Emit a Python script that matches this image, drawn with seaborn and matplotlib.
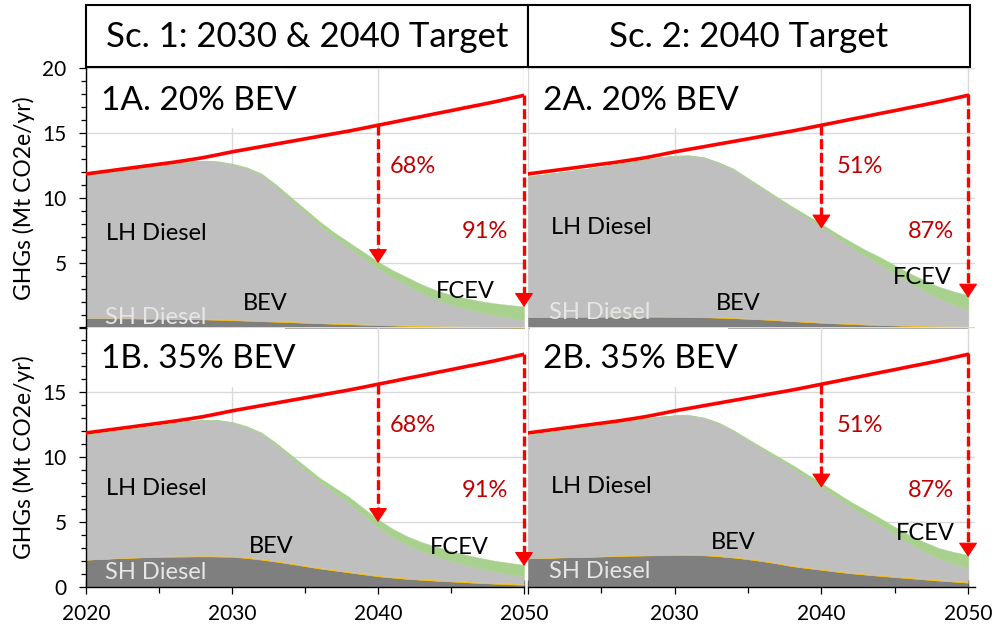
import matplotlib
matplotlib.use("Agg")
import matplotlib.pyplot as plt
from matplotlib.patches import Rectangle
from matplotlib.ticker import MultipleLocator, FixedLocator
import pandas as pd
import seaborn as sns

# ---------------- data ----------------
years = list(range(2020, 2051))
baseline = [11.85, 12.0, 12.15, 12.3, 12.45, 12.6, 12.75, 12.92, 13.1, 13.32,
            13.55, 13.75, 13.95, 14.15, 14.35, 14.55, 14.75, 14.95, 15.15, 15.37,
            15.6, 15.82, 16.05, 16.27, 16.5, 16.72, 16.95, 17.17, 17.4, 17.65, 17.9]

# Panel 1A (Sc. 1, 20% BEV)
sh_1a = [0.75, 0.75, 0.74, 0.73, 0.72, 0.71, 0.70, 0.68, 0.66, 0.63,
         0.60, 0.56, 0.52, 0.48, 0.44, 0.40, 0.36, 0.32, 0.29, 0.25,
         0.22, 0.19, 0.16, 0.13, 0.11, 0.09, 0.07, 0.06, 0.05, 0.04, 0.03]
bev_1a = [0.00, 0.01, 0.01, 0.02, 0.02, 0.03, 0.03, 0.04, 0.04, 0.05,
          0.05, 0.05, 0.05, 0.06, 0.06, 0.06, 0.06, 0.06, 0.06, 0.06,
          0.06, 0.06, 0.06, 0.06, 0.06, 0.06, 0.06, 0.06, 0.06, 0.06, 0.06]
lh_1a = [11.00, 11.14, 11.30, 11.45, 11.61, 11.76, 11.92, 12.06, 12.15, 12.12,
         11.95, 11.69, 11.23, 10.36, 9.40, 8.44, 7.48, 6.62, 5.85, 5.09,
         4.32, 3.65, 3.08, 2.51, 2.03, 1.65, 1.37, 1.10, 0.89, 0.70, 0.51]
fcev_1a = [0.0, 0.0, 0.0, 0.0, 0.0, 0.0, 0.0, 0.01, 0.02, 0.03,
           0.05, 0.07, 0.10, 0.15, 0.20, 0.25, 0.30, 0.35, 0.40, 0.45,
           0.50, 0.55, 0.60, 0.65, 0.70, 0.75, 0.80, 0.85, 0.90, 0.97, 1.05]

# Panel 2A (Sc. 2, 20% BEV)
sh_2a = [0.85, 0.85, 0.86, 0.86, 0.87, 0.87, 0.87, 0.87, 0.86, 0.86,
         0.85, 0.84, 0.82, 0.79, 0.75, 0.70, 0.65, 0.59, 0.52, 0.46,
         0.40, 0.35, 0.30, 0.26, 0.22, 0.19, 0.16, 0.13, 0.11, 0.09, 0.08]
bev_2a = [0.00, 0.01, 0.01, 0.02, 0.02, 0.02, 0.03, 0.03, 0.03, 0.04,
          0.04, 0.04, 0.04, 0.05, 0.05, 0.05, 0.05, 0.05, 0.05, 0.05,
          0.05, 0.05, 0.05, 0.05, 0.05, 0.05, 0.05, 0.05, 0.05, 0.05, 0.05]
lh_2a = [10.80, 10.94, 11.08, 11.22, 11.36, 11.53, 11.70, 11.88, 12.06, 12.22,
         12.36, 12.38, 12.24, 11.86, 11.40, 10.70, 10.00, 9.31, 8.63, 7.99,
         7.35, 6.60, 5.91, 5.24, 4.63, 3.96, 3.29, 2.70, 2.14, 1.68, 1.27]
fcev_2a = [0.0, 0.0, 0.0, 0.0, 0.0, 0.0, 0.0, 0.0, 0.01, 0.015,
           0.02, 0.03, 0.04, 0.05, 0.07, 0.08, 0.10, 0.12, 0.15, 0.18,
           0.22, 0.30, 0.38, 0.46, 0.55, 0.63, 0.72, 0.80, 0.88, 1.00, 1.12]

# Panel 1B (Sc. 1, 35% BEV)
sh_1b = [2.10, 2.15, 2.20, 2.24, 2.28, 2.31, 2.33, 2.34, 2.35, 2.34,
         2.32, 2.23, 2.10, 1.95, 1.78, 1.60, 1.42, 1.27, 1.12, 0.97,
         0.82, 0.72, 0.62, 0.55, 0.48, 0.42, 0.36, 0.30, 0.25, 0.20, 0.16]
bev_1b = [0.00, 0.01, 0.02, 0.03, 0.04, 0.04, 0.05, 0.05, 0.06, 0.06,
          0.07, 0.07, 0.08, 0.08, 0.08, 0.08, 0.08, 0.08, 0.08, 0.08,
          0.08, 0.08, 0.08, 0.08, 0.08, 0.08, 0.08, 0.08, 0.08, 0.08, 0.08]
lh_1b = [9.60, 9.69, 9.78, 9.88, 9.98, 10.10, 10.22, 10.36, 10.44, 10.42,
         10.26, 10.00, 9.62, 8.92, 8.14, 7.37, 6.60, 5.95, 5.30, 4.50,
         3.70, 3.05, 2.55, 2.12, 1.79, 1.50, 1.26, 1.05, 0.87, 0.72, 0.56]
fcev_1b = [0.0, 0.0, 0.0, 0.0, 0.0, 0.0, 0.0, 0.02, 0.03, 0.04,
           0.06, 0.08, 0.10, 0.15, 0.20, 0.25, 0.30, 0.37, 0.45, 0.52,
           0.60, 0.63, 0.65, 0.70, 0.75, 0.77, 0.78, 0.80, 0.82, 0.86, 0.90]

# Panel 2B (Sc. 2, 35% BEV)
sh_2b = [2.20, 2.23, 2.26, 2.29, 2.31, 2.34, 2.37, 2.40, 2.42, 2.44,
         2.46, 2.46, 2.43, 2.36, 2.26, 2.13, 1.98, 1.80, 1.60, 1.45,
         1.32, 1.18, 1.05, 0.95, 0.85, 0.76, 0.67, 0.58, 0.49, 0.41, 0.33]
bev_2b = [0.00, 0.01, 0.02, 0.02, 0.03, 0.03, 0.04, 0.04, 0.05, 0.05,
          0.06, 0.06, 0.07, 0.07, 0.07, 0.07, 0.07, 0.07, 0.07, 0.07,
          0.07, 0.07, 0.07, 0.07, 0.07, 0.07, 0.07, 0.07, 0.07, 0.07, 0.07]
lh_2b = [9.50, 9.61, 9.72, 9.84, 9.96, 10.10, 10.24, 10.36, 10.48, 10.61,
         10.68, 10.68, 10.50, 10.17, 9.67, 9.10, 8.55, 8.03, 7.53, 6.93,
         6.31, 5.70, 5.08, 4.48, 3.88, 3.22, 2.62, 2.10, 1.64, 1.32, 1.04]
fcev_2b = [0.0, 0.0, 0.0, 0.0, 0.0, 0.0, 0.0, 0.0, 0.01, 0.015,
           0.02, 0.03, 0.04, 0.05, 0.07, 0.09, 0.12, 0.16, 0.20, 0.25,
           0.30, 0.33, 0.36, 0.43, 0.50, 0.57, 0.64, 0.72, 0.80, 0.90, 1.02]

reduction_s1 = [68, 91]   # % below baseline in 2040, 2050
reduction_s2 = [51, 87]
arrow_years = [2040, 2050]

scenario_titles = ["Sc. 1: 2030 & 2040 Target", "Sc. 2: 2040 Target"]
panel_titles = ["1A. 20% BEV", "2A. 20% BEV", "1B. 35% BEV", "2B. 35% BEV"]
y_label = "GHGs (Mt CO2e/yr)"

# ---------------- style ----------------
sns.set_theme(style="ticks")
plt.rcParams['font.family'] = ['Lato', 'DejaVu Sans']

C_SH = "#7f7f7f"
C_BEV = "#ffc000"
C_LH = "#bfbfbf"
C_FCEV = "#a9d18e"
C_RED = "#ff0000"
C_PCT = "#c00000"
C_GRID = "#d9d9d9"

W, H = 995, 628
fig = plt.figure(figsize=(W / 100, H / 100), dpi=100)


def add_ax(l, r, t, b, z):
    return fig.add_axes([l / W, 1 - b / H, (r - l) / W, (b - t) / H], zorder=z)


ax1a = add_ax(86, 524, 68, 328, 3)
ax2a = add_ax(528, 975.4, 68, 328, 2)
ax1b = add_ax(86, 524, 327, 587, 3)
ax2b = add_ax(528, 975.4, 327, 587, 2)

panels = [
    (ax1a, sh_1a, bev_1a, lh_1a, fcev_1a, reduction_s1, panel_titles[0], False, True,
     dict(lh=(2021.4, 7.3), sh=(2021.3, 0.77), bev=(2032.3, 1.9), fcev=(2046.0, 2.8))),
    (ax2a, sh_2a, bev_2a, lh_2a, fcev_2a, reduction_s2, panel_titles[1], True, True,
     dict(lh=(2021.6, 7.7), sh=(2021.4, 1.2), bev=(2034.3, 1.9), fcev=(2046.9, 3.9))),
    (ax1b, sh_1b, bev_1b, lh_1b, fcev_1b, reduction_s1, panel_titles[2], False, False,
     dict(lh=(2021.4, 7.6), sh=(2021.3, 1.15), bev=(2032.7, 3.15), fcev=(2045.6, 3.0))),
    (ax2b, sh_2b, bev_2b, lh_2b, fcev_2b, reduction_s2, panel_titles[3], True, False,
     dict(lh=(2021.6, 7.7), sh=(2021.4, 1.23), bev=(2034.0, 3.4), fcev=(2047.1, 4.1))),
]

for ax, sh, bev, lh, fcev, red, ptitle, right, top, lab in panels:
    ax.set_axisbelow(True)
    ax.patch.set_alpha(0)
    ax.stackplot(years, sh, bev, lh, fcev,
                 colors=[C_SH, C_BEV, C_LH, C_FCEV],
                 edgecolor='face', linewidth=0.3, zorder=1)
    df = pd.DataFrame({"year": years, "base": baseline})
    sns.lineplot(data=df, x="year", y="base", ax=ax, color=C_RED, lw=2.6, zorder=3)
    ax.set_xlabel("")
    ax.set_ylabel("")

    ax.set_xlim(2020, 2050.5 if right else 2050)
    ax.set_ylim(0, 20)

    # grid
    ax.xaxis.set_major_locator(FixedLocator([2020, 2030, 2040, 2050]))
    ax.xaxis.set_minor_locator(FixedLocator([2025, 2035, 2045]))
    ax.yaxis.set_major_locator(FixedLocator([0, 5, 10, 15, 20]))
    ax.yaxis.set_minor_locator(MultipleLocator(1))
    ax.grid(which='major', color=C_GRID, lw=1.0)

    # white box behind panel title
    ax.add_patch(Rectangle((2020.15, 15.4), 13.5, 4.5, facecolor='white',
                           edgecolor='none', zorder=0.8))

    for s in ['top', 'right']:
        ax.spines[s].set_visible(False)
    ax.spines['left'].set_visible(not right)
    ax.spines['bottom'].set_visible(not top)
    ax.spines['left'].set_color('black')
    ax.spines['bottom'].set_color('black')
    ax.spines['left'].set_linewidth(1.0)
    ax.spines['bottom'].set_linewidth(1.0)

    # y ticks
    if right:
        ax.tick_params(axis='y', which='both', left=False, labelleft=False)
    else:
        ax.tick_params(axis='y', which='major', left=True, direction='out', length=5,
                       width=0.9, color='black', pad=9, labelsize=15, labelcolor='black')
        ax.tick_params(axis='y', which='minor', left=True, direction='out', length=3.5,
                       width=0.9, color='black')
        if top:
            ax.set_yticklabels(['', '5', '10', '15', '20'])
        else:
            ax.set_yticklabels(['0', '5', '10', '15', ''])
        ax.set_ylabel(y_label, fontsize=16.5, color='black')
        ax.yaxis.set_label_coords(-0.117, 0.5)

    # x ticks
    if top:
        ax.tick_params(axis='x', which='both', bottom=False, labelbottom=False)
    else:
        ax.tick_params(axis='x', which='major', bottom=True, direction='inout', length=10,
                       width=0.9, color='black', pad=7, labelsize=15, labelcolor='black')
        ax.tick_params(axis='x', which='minor', bottom=True, direction='out', length=4.5,
                       width=0.9, color='black')
        if right:
            ax.set_xticklabels(['', '2030', '2040', '2050'])
        else:
            ax.set_xticklabels(['2020', '2030', '2040', '2050'])

    # arrows showing reductions below baseline: dashed shaft + solid head
    for yr, pct in zip(arrow_years, red):
        base = baseline[years.index(yr)]
        tgt = base * (1 - pct / 100)
        ax.plot([yr, yr], [base, tgt + 0.7], color=C_RED, lw=2.4,
                ls=(0, (3.0, 1.1)), clip_on=False, zorder=5, solid_capstyle='butt')
        ax.annotate('', xy=(yr, tgt), xytext=(yr, tgt + 0.9),
                    arrowprops=dict(arrowstyle='-|>,head_length=0.45,head_width=0.3',
                                    color=C_RED, lw=0.8, shrinkA=0, shrinkB=0,
                                    mutation_scale=20),
                    annotation_clip=False, zorder=5)
    p40x = 2042.4 if not right else 2042.6
    p50x = 2047.3 if not right else 2047.5
    ax.text(p40x, 12.4, f"{red[0]}%", color=C_PCT, fontsize=17, ha='center', va='center', zorder=6)
    ax.text(p50x, 7.4, f"{red[1]}%", color=C_PCT, fontsize=17, ha='center', va='center', zorder=6)

    # labels
    ax.text(2021.0, 17.5, ptitle, fontsize=24, ha='left', va='center', color='black', zorder=6)
    ax.text(*lab['lh'], "LH Diesel", fontsize=17, ha='left', va='center', color='black', zorder=6)
    ax.text(*lab['sh'], "SH Diesel", fontsize=17, ha='left', va='center', color='#e6e6e6', zorder=6)
    ax.text(*lab['bev'], "BEV", fontsize=17, ha='center', va='center', color='black', zorder=6)
    ax.text(*lab['fcev'], "FCEV", fontsize=17, ha='center', va='center', color='black', zorder=6)

# scenario header boxes
for (l, r), title in zip([(86, 528), (528, 970)], scenario_titles):
    fig.add_artist(Rectangle((l / W, 1 - 67 / H), (r - l) / W, 62 / H,
                             transform=fig.transFigure, facecolor='white',
                             edgecolor='black', lw=1.5, zorder=10))
    fig.text((l + r) / 2 / W, 1 - 37 / H, title, fontsize=25, ha='center', va='center',
             color='black', zorder=11)

fig.savefig("out.png", dpi=100)
